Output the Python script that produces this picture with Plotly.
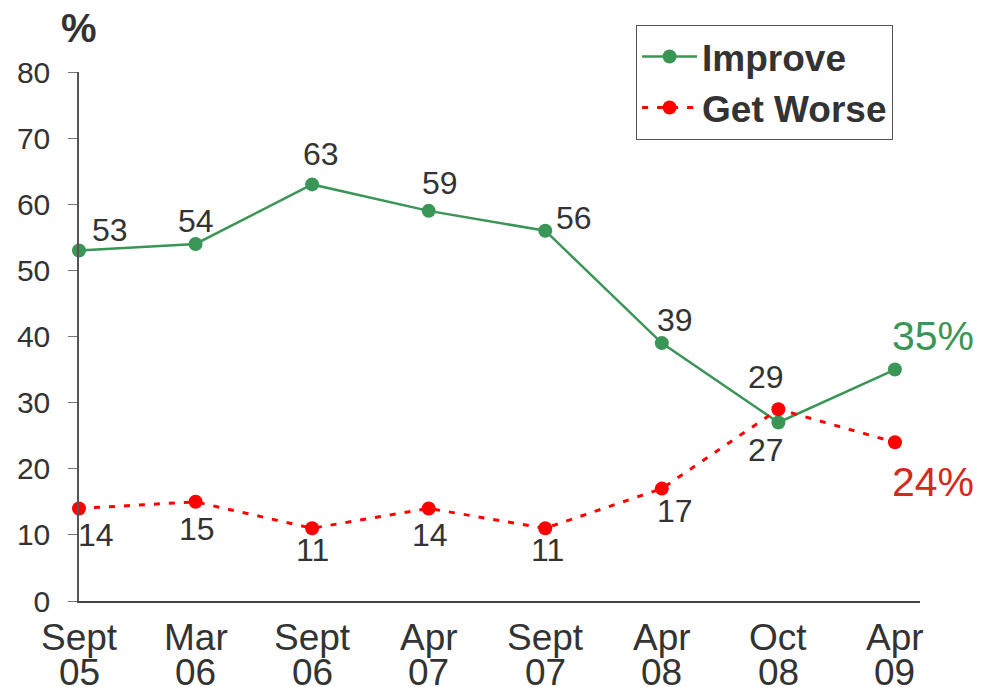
import plotly.graph_objects as go

cat_top = ["Sept", "Mar", "Sept", "Apr", "Sept", "Apr", "Oct", "Apr"]
cat_bot = ["05", "06", "06", "07", "07", "08", "08", "09"]
improve = [53, 54, 63, 59, 56, 39, 27, 35]
worse = [14, 15, 11, 14, 11, 17, 29, 24]

GREEN = "#3a9657"
RED = "#ff0000"
TXT = "#333333"
FONT = "Liberation Sans, Arial, sans-serif"

xs = list(range(len(cat_top)))

fig = go.Figure()
fig.add_trace(go.Scatter(
    x=xs, y=improve, name="Improve", mode="lines+markers",
    line=dict(color=GREEN, width=2.5), marker=dict(color=GREEN, size=14),
    cliponaxis=False))
fig.add_trace(go.Scatter(
    x=xs, y=worse, name="Get Worse", mode="lines+markers",
    line=dict(color=RED, width=3, dash="6px,9px"), marker=dict(color=RED, size=14),
    cliponaxis=False))

# label offsets (pixels) for each point
imp_off = [(31, 21), (0, 23), (9, 30), (11, 28), (29, 13), (13, 23), (-12, -28), (38, 34)]
wor_off = [(17, -27), (1, -27), (0, -22), (1, -27), (2, -22), (13, -22), (-12, 32), (38, -40)]

ann = []
for i, (v, (dx, dy)) in enumerate(zip(improve, imp_off)):
    last = i == len(improve) - 1
    ann.append(dict(x=i, y=v, xref="x", yref="y", showarrow=False,
                    text=f"{v}%" if last else str(v), xshift=dx, yshift=dy,
                    xanchor="center", yanchor="middle",
                    font=dict(family=FONT, size=41 if last else 32,
                              color=GREEN if last else TXT)))
for i, (v, (dx, dy)) in enumerate(zip(worse, wor_off)):
    last = i == len(worse) - 1
    ann.append(dict(x=i, y=v, xref="x", yref="y", showarrow=False,
                    text=f"{v}%" if last else str(v), xshift=dx, yshift=dy,
                    xanchor="center", yanchor="middle",
                    font=dict(family=FONT, size=41 if last else 32,
                              color="#d42a1e" if last else TXT)))
for i, (a, b) in enumerate(zip(cat_top, cat_bot)):
    ann.append(dict(x=i, y=0, xref="x", yref="paper", showarrow=False, text=a,
                    yshift=-36, xanchor="center", yanchor="middle",
                    font=dict(family=FONT, size=37, color=TXT)))
    ann.append(dict(x=i, y=0, xref="x", yref="paper", showarrow=False, text=b,
                    yshift=-71, xanchor="center", yanchor="middle",
                    font=dict(family=FONT, size=37, color=TXT)))
ann.append(dict(x=0, y=1, xref="paper", yref="paper", showarrow=False, text="<b>%</b>",
                xshift=0, yshift=44, xanchor="center", yanchor="middle",
                font=dict(family=FONT, size=40, color=TXT)))

fig.update_layout(
    width=995, height=687,
    margin=dict(l=71, r=83, t=64, b=94, autoexpand=False),
    paper_bgcolor="white", plot_bgcolor="white",
    showlegend=True,
    legend=dict(x=0.968, y=1.089, xanchor="right", yanchor="top",
                bordercolor="#555555", borderwidth=1, bgcolor="white",
                font=dict(family=FONT, size=37, color=TXT, weight="bold"),
                itemwidth=55, tracegroupgap=0),
    xaxis=dict(range=[0, 7.215], tickvals=xs, showticklabels=False, showgrid=False,
               zeroline=False, showline=True, linecolor="#444444", linewidth=2, ticks=""),
    yaxis=dict(range=[0, 80], tickvals=list(range(0, 81, 10)), showgrid=False,
               zeroline=False, showline=True, linecolor="#555555", linewidth=1.5,
               ticks="outside", ticklen=9, tickcolor="#777777", tickwidth=1,
               ticklabelstandoff=12,
               tickfont=dict(family=FONT, size=30, color=TXT)),
    annotations=ann,
)

fig.write_html("out.html")
